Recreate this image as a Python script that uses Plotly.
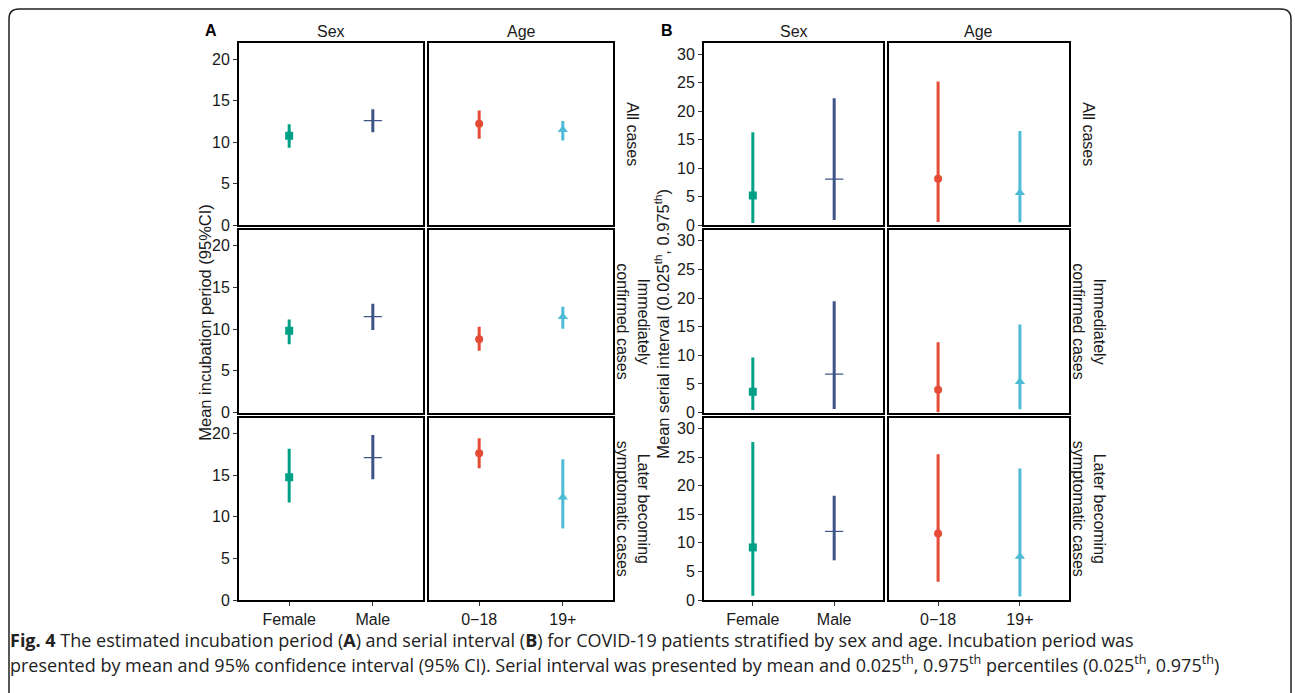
import plotly.graph_objects as go

W, H = 1295, 693

# ---------------- data ----------------
groups = ["Female", "Male", "0\u221218", "19+"]
facet_cols = ["Sex", "Age"]
facet_rows = ["All cases", "Immediately<br>confirmed cases", "Later becoming<br>symptomatic cases"]
colors = ["#00A087", "#3C5488", "#E64B35", "#4DBBD5"]
symbols = ["square", "line-ew", "circle", "triangle-up"]

# Panel A: incubation period, mean and 95% CI  (order: Female, Male, 0-18, 19+)
inc_mean_all = [10.78, 12.6, 12.2, 11.5]
inc_low_all = [9.33, 11.18, 10.4, 10.2]
inc_high_all = [12.16, 13.97, 13.8, 12.55]
inc_mean_imm = [9.8, 11.5, 8.8, 11.5]
inc_low_imm = [8.2, 9.9, 7.4, 10.05]
inc_high_imm = [11.15, 13.05, 10.3, 12.7]
inc_mean_later = [14.75, 17.1, 17.6, 12.35]
inc_low_later = [11.7, 14.5, 15.8, 8.6]
inc_high_later = [18.15, 19.8, 19.4, 16.9]

# Panel B: serial interval, mean and 0.025th / 0.975th percentiles
si_mean_all = [5.2, 8.05, 8.15, 5.67]
si_low_all = [0.35, 0.87, 0.52, 0.5]
si_high_all = [16.3, 22.25, 25.2, 16.5]
si_mean_imm = [3.65, 6.7, 4.0, 5.4]
si_low_imm = [0.47, 0.64, 0.05, 0.6]
si_high_imm = [9.6, 19.45, 12.3, 15.4]
si_mean_later = [9.2, 12.0, 11.65, 7.6]
si_low_later = [0.75, 6.95, 3.2, 0.65]
si_high_later = [27.6, 18.25, 25.5, 23.0]

inc_ticks = [0, 5, 10, 15, 20]
si_ticks = [0, 5, 10, 15, 20, 25, 30]

panels = [
    dict(letter="A",
         means=[inc_mean_all, inc_mean_imm, inc_mean_later],
         lows=[inc_low_all, inc_low_imm, inc_low_later],
         highs=[inc_high_all, inc_high_imm, inc_high_later],
         ticks=inc_ticks, yrange=[0, 21.9],
         cols_px=[(239, 423), (429, 613)],
         ytitle="Mean incubation period (95%CI)", ytitle_x=205, ytitle_y=326,
         strip_x=633, letter_x=211),
    dict(letter="B",
         means=[si_mean_all, si_mean_imm, si_mean_later],
         lows=[si_low_all, si_low_imm, si_low_later],
         highs=[si_high_all, si_high_imm, si_high_later],
         ticks=si_ticks, yrange=[0, 31.9],
         cols_px=[(704, 883), (889, 1069)],
         ytitle="Mean serial interval (0.025<sup>th</sup>, 0.975<sup>th</sup>)", ytitle_x=662,
         ytitle_y=328, strip_x=1089, letter_x=667),
]
rows_px = [(44, 228), (233, 418), (423, 608)]

FONT = "Liberation Sans, Arial, sans-serif"
TXT = "#1a1a1a"

fig = go.Figure()
layout = {}
annotations = []
shapes = []


def px_x(x):
    return x / W


def px_y(y):
    return 1 - y / H


def note(text, x, y, size, angle=0, xanchor="center", family=FONT, color=TXT):
    annotations.append(dict(
        text=text, x=px_x(x), y=px_y(y), xref="paper", yref="paper",
        xanchor=xanchor, yanchor="middle", showarrow=False, textangle=angle,
        font=dict(family=family, size=size, color=color)))


sizes = {"square": 8, "line-ew": 13, "circle": 8, "triangle-up": 9}

n = 0
for p in panels:
    for r, (y0, y1) in enumerate(rows_px):
        for c, (x0, x1) in enumerate(p["cols_px"]):
            n += 1
            xa = "x" if n == 1 else f"x{n}"
            ya = "y" if n == 1 else f"y{n}"
            xkey = "xaxis" if n == 1 else f"xaxis{n}"
            ykey = "yaxis" if n == 1 else f"yaxis{n}"
            idx = [2 * c, 2 * c + 1]
            cats = [groups[i] for i in idx]
            for i in idx:
                m = p["means"][r][i]
                lo = p["lows"][r][i]
                hi = p["highs"][r][i]
                is_line = symbols[i] == "line-ew"
                fig.add_trace(go.Scatter(
                    x=[groups[i]], y=[m], xaxis=xa, yaxis=ya, mode="markers",
                    showlegend=False, hoverinfo="skip",
                    marker=dict(symbol=symbols[i], size=sizes[symbols[i]], color=colors[i],
                                line=dict(width=1.2 if is_line else 0, color=colors[i])),
                    error_y=dict(type="data", symmetric=False, array=[hi - m],
                                 arrayminus=[m - lo], thickness=3, width=0, color=colors[i]),
                ))
            layout[xkey] = dict(
                domain=[px_x(x0), px_x(x1)], anchor=ya, type="category",
                categoryorder="array", categoryarray=cats, range=[-0.6, 1.6],
                showgrid=False, zeroline=False, showline=True, mirror=True,
                linecolor="black", linewidth=2,
                ticks="outside" if r == 2 else "", ticklen=4, tickcolor="#333",
                showticklabels=(r == 2), tickfont=dict(family=FONT, size=16, color=TXT),
                fixedrange=True,
            )
            layout[ykey] = dict(
                domain=[px_y(y1), px_y(y0)], anchor=xa, range=p["yrange"],
                tickvals=p["ticks"], showgrid=False, zeroline=False, showline=True,
                mirror=True, linecolor="black", linewidth=2,
                ticks="outside" if c == 0 else "", ticklen=4, tickcolor="#333",
                showticklabels=(c == 0), tickfont=dict(family=FONT, size=16, color=TXT),
                fixedrange=True,
            )
            if r == 0:
                note(facet_cols[c], (x0 + x1) / 2, 32, 16)
        note(facet_rows[r], p["strip_x"], (y0 + y1) / 2, 16, angle=90)
    note(p["ytitle"], p["ytitle_x"], p["ytitle_y"], 16.5, angle=-90)
    note(f"<b>{p['letter']}</b>", p["letter_x"], 31, 16, color="black")

CAP_FONT = "Open Sans, sans-serif"
note("<b>Fig. 4</b> The estimated incubation period (<b>A</b>) and serial interval (<b>B</b>) "
     "for COVID-19 patients stratified by sex and age. Incubation period was",
     8, 648, 18, xanchor="left", family=CAP_FONT, color="#222")
note("presented by mean and 95% confidence interval (95% CI). Serial interval was presented by mean and "
     "0.025<sup>th</sup>, 0.975<sup>th</sup> percentiles (0.025<sup>th</sup>, 0.975<sup>th</sup>)",
     8, 673, 18, xanchor="left", family=CAP_FONT, color="#222")

# rounded outer frame
shapes.append(dict(
    type="path", xref="paper", yref="paper", line=dict(color="#222", width=1.5),
    path=f"M {px_x(9)},{px_y(720)} L {px_x(9)},{px_y(19)} Q {px_x(9)},{px_y(9)} {px_x(19)},{px_y(9)} "
         f"L {px_x(1281)},{px_y(9)} Q {px_x(1291)},{px_y(9)} {px_x(1291)},{px_y(19)} L {px_x(1291)},{px_y(720)}"))

fig.update_layout(
    width=W, height=H, margin=dict(l=0, r=0, t=0, b=0),
    paper_bgcolor="white", plot_bgcolor="white",
    annotations=annotations, shapes=shapes, showlegend=False,
    **layout,
)

fig.write_html("out.html", config={"displayModeBar": False},
               post_script="document.body.style.margin='0';")
